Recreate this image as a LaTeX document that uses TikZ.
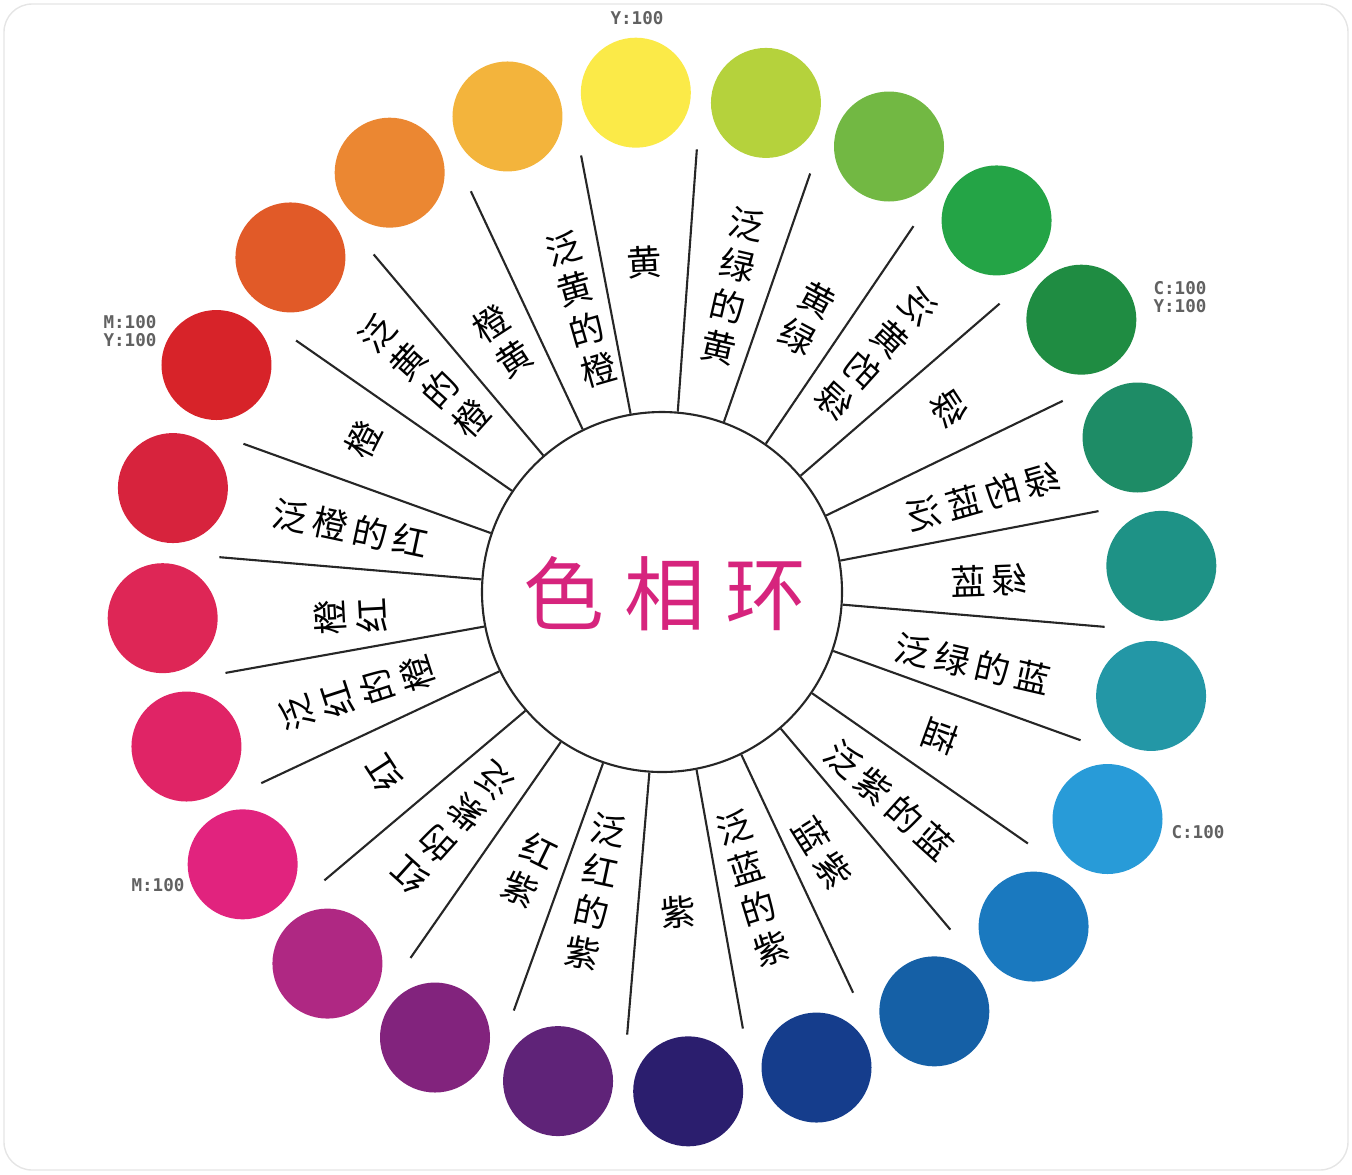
\documentclass[tikz,border=0pt]{standalone}
\usepackage{fontspec}
\setmainfont{Noto Sans CJK SC}
\newfontfamily\tagfont{DejaVu Sans Mono}
\begin{document}
\begin{tikzpicture}[
  wheeldot/.style={circle,minimum size=1.1cm,inner sep=0pt},
  hue/.style={font=\fontsize{10}{12}\selectfont,align=center,inner sep=0pt},
  tag/.style={font=\tagfont\bfseries\fontsize{5}{5.3}\selectfont,text=black!62,align=center,inner sep=0pt}
]
\useasboundingbox (-6.62,-5.82) rectangle (6.90,5.92);
\draw[black!10,rounded corners=8pt] (-6.58,-5.78) rectangle (6.86,5.88);
\node[circle,draw=black!85,line width=0.6pt,minimum size=3.6cm,inner sep=0pt] (hub) at (0,0) {};
\node[text={rgb,255:red,214;green,36;blue,125},font=\fontsize{23}{23}\selectfont] (title) at (0.03,-0.02) {色\hspace{0.2cm}相\hspace{0.2cm}环};
\foreach \k [evaluate=\k as \la using 100.5-15*\k] in {0,...,23} {
  \coordinate (e\k) at (\la:4.44);
  \draw[black!85,line width=0.6pt] (hub.\la) -- (e\k);
}
\foreach \k/\col in {0/FBEA48,1/B5D23C,2/72B843,3/24A446,4/1F8C42,5/1E8C66,6/1E9286,7/2397A6,8/289BD8,9/1A79BF,10/1560A6,11/153D8C,12/2B1E6E,13/5F2378,14/82237D,15/AF2883,16/E1237E,17/E02466,18/DE2656,19/D7233D,20/D72329,21/E15A28,22/EB8732,23/F3B43C} {
  \definecolor{dotcol}{HTML}{\col}
  \node[wheeldot,fill=dotcol] (c\k) at ({93-15*\k}:5) {};
}
\foreach \k/\ang/\rad/\rot/\mir/\txt in {
  0/93/3.30/3/1/{黄},
  1/77/3.14/-13/1/{泛\\绿\\的\\黄},
  2/62/3.10/-28/1/{黄\\绿},
  3/48/3.20/-42/-1/{泛\\黄\\的\\绿},
  4/32.5/3.41/-57/-1/{绿},
  5/16.5/3.35/16/-1/{绿\,的\,蓝\,泛},
  6/2/3.27/2/-1/{绿\,蓝},
  7/-13/3.19/-13/1/{泛\,绿\,的\,蓝},
  8/-27.5/3.14/-110/1/{蓝},
  9/-42.5/3.08/-42/1/{泛\,紫\,的\,蓝},
  10/-58.5/3.06/-58/1/{蓝\,紫},
  11/-73/3.10/17/1/{泛\\蓝\\的\\紫},
  12/-87/3.21/3/1/{紫},
  13/-102.5/3.07/-12/1/{泛\\红\\的\\紫},
  14/-115.5/3.08/-26/1/{红\\紫},
  15/-131.7/3.16/138/1/{红\\的\\紫\\泛},
  16/-147/3.33/123/1/{红},
  17/-161.6/3.21/108/1/{泛\\红\\的\\橙},
  18/-175.5/3.13/93/1/{橙\\红},
  19/168.5/3.18/-12/1/{泛\,橙\,的\,红},
  20/153/3.35/63/1/{橙},
  21/137.7/3.21/48/1/{泛\\黄\\的\\橙},
  22/122.5/2.97/33/1/{橙\\黄},
  23/106/2.94/16/1/{泛\\黄\\的\\橙}} {
  \node[hue,rotate=\rot,xscale=\mir] (l\k) at (\ang:\rad) {\txt};
}
\node[tag] (ytag) at (-0.25,5.74) {Y:100};
\node[tag] (cytag) at (5.18,2.95) {C:100\\Y:100};
\node[tag] (mytag) at (-5.32,2.61) {M:100\\Y:100};
\node[tag] (ctag) at (5.36,-2.40) {C:100};
\node[tag] (mtag) at (-5.04,-2.93) {M:100};
\end{tikzpicture}
\end{document}
